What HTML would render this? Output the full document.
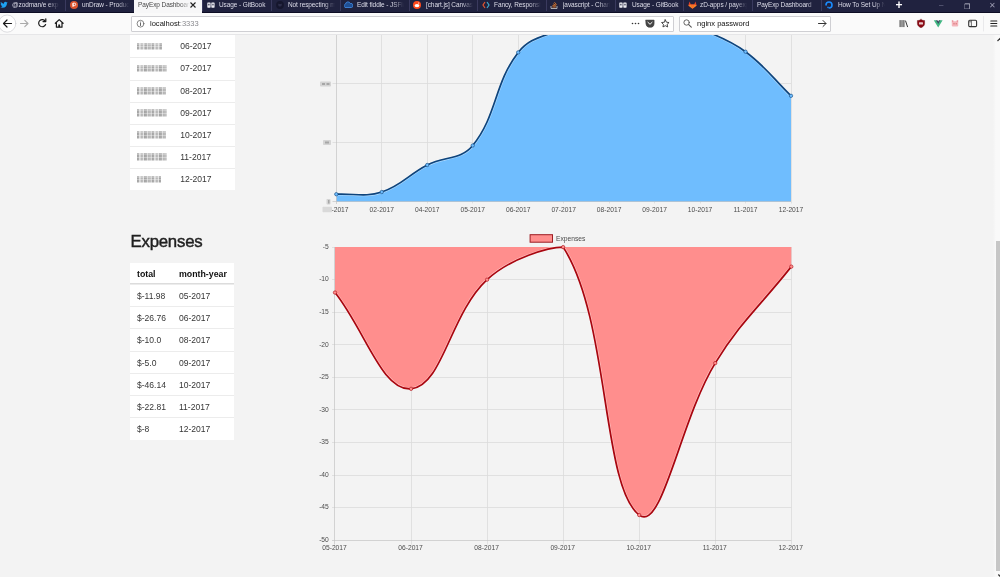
<!DOCTYPE html>
<html lang="en">
<head>
<meta charset="utf-8">
<title>PayExp Dashboard</title>
<style>
*{box-sizing:border-box;margin:0;padding:0}
html,body{width:1000px;height:577px;overflow:hidden;background:#f3f3f3;font-family:"Liberation Sans",sans-serif;color:#222}
#shot{position:relative;width:1000px;height:577px;overflow:hidden;background:#f3f3f3}
/* ---------- tab bar ---------- */
#tabbar{position:absolute;left:0;top:0;width:1000px;height:12.600px;background:#20223f;border-bottom:1.200px solid #0d0d24}
.tab{position:absolute;top:0;height:11px;color:#dddde9;font-size:7.500px;line-height:10px;white-space:nowrap;overflow:hidden;border-left:1px solid #3a3a5e}
.tab .fav{position:absolute;left:3.500px;top:1px;width:9px;height:9px;line-height:0}
.tab .tt{position:absolute;left:16px;top:0;width:56px;transform:scaleX(0.865);transform-origin:0 0;overflow:hidden;letter-spacing:-0.1px;-webkit-mask-image:linear-gradient(90deg,#000 74%,transparent 97%);mask-image:linear-gradient(90deg,#000 74%,transparent 97%)}
.tab .tt.nofade{-webkit-mask-image:none;mask-image:none}
.tab .tt.noic{left:4.300px;width:68px;-webkit-mask-image:linear-gradient(90deg,#000 85%,transparent 100%);mask-image:linear-gradient(90deg,#000 85%,transparent 100%)}
.tab.active{background:#f7f7f8;color:#484848;letter-spacing:-0.2px;height:12.600px;border-left:none}
.tab.active .tt{width:61px;-webkit-mask-image:linear-gradient(90deg,#000 80%,transparent 98%);mask-image:linear-gradient(90deg,#000 80%,transparent 98%)}
.tab .close{position:absolute;right:6.200px;top:1.800px;width:6px;height:6px;line-height:0}
#newtab{position:absolute;left:895.500px;top:-1.500px;color:#fff;font-size:12px;line-height:12px;font-weight:bold}
.wc{position:absolute;top:0;color:#c9c9d6;font-size:8px;line-height:11px}
/* ---------- nav bar ---------- */
#nav{position:absolute;left:0;top:12.600px;width:1000px;height:22.400px;background:#fafafa;border-bottom:1px solid #e6e6e8}
#url{position:absolute;left:131px;top:3.300px;width:543px;height:15.700px;background:#fff;border:1px solid #cfcfd3;border-radius:1px;font-size:7.550px;line-height:14px}
#url .host{position:absolute;left:18px;top:0.400px;color:#111}
#url .host b{font-weight:normal;color:#8a8a8f}
#search{position:absolute;left:679px;top:3.300px;width:151.500px;height:15.700px;background:#fff;border:1px solid #cfcfd3;border-radius:1px;font-size:7.550px;line-height:14px}
#search span{position:absolute;left:17px;top:0.400px;color:#111}
.nico{position:absolute;top:-0.400px;left:0;z-index:2}
/* ---------- page ---------- */
.tbl{position:absolute;left:130px;width:104px;background:#fff;font-size:8.550px;color:#363636}
.row{position:relative;height:22.250px;border-top:1px solid #ececec;line-height:22.500px}
.row:first-child{border-top:none}
.t1 .row{height:22.150px;line-height:21.500px}
.t1 .row:nth-child(2){border-top-color:#fff}
.t1 .c2{left:50.200px}
.row.head{font-weight:bold;font-size:8.800px;color:#111;border-bottom:1px solid #dcdcdc;height:21.400px}
.c1{position:absolute;left:7px;top:0}
.c2{position:absolute;left:49px;top:0}
.blur{display:inline-block;height:7.500px;vertical-align:middle;margin-top:-1px;background:linear-gradient(180deg,rgba(255,255,255,.25) 0 30%,rgba(255,255,255,0) 30% 45%,rgba(255,255,255,.35) 45% 60%,rgba(255,255,255,0) 60% 85%,rgba(255,255,255,.5) 85%),repeating-linear-gradient(90deg,#8e8e8e 0,#9a9a9a 2px,#d4d4d4 2.500px,#c9c9c9 3.500px,#a4a4a4 4px,#b0b0b0 6px,#dadada 6.500px,#b4b4b4 7.500px);filter:blur(0.6px);opacity:.8}
h2{position:absolute;left:130.500px;top:230.800px;font-size:16.800px;line-height:22px;font-weight:normal;color:#1f1f1f;letter-spacing:-0.22px;-webkit-text-stroke:0.45px #1f1f1f}
.charts{position:absolute;left:0;top:34px}
.tick{font-family:"Liberation Sans",sans-serif;font-size:6.700px;fill:#4c4c4c}
#sb{position:absolute;left:992.500px;top:34px;width:7.500px;height:543px;background:linear-gradient(90deg,#f3f3f3,#f9f9f9 40%)}
#sb i{position:absolute;left:3px;top:207px;width:5px;height:330px;background:#c6c6c6}
</style>
</head>
<body>
<div id="shot">

<svg class="charts" width="1000" height="543" viewBox="0 34 1000 543">
<g stroke="#dbdbdb" stroke-width="0.8" fill="none">
<line x1="381.50" y1="34" x2="381.50" y2="203.5"/>
<line x1="427.50" y1="34" x2="427.50" y2="203.5"/>
<line x1="472.50" y1="34" x2="472.50" y2="203.5"/>
<line x1="518.50" y1="34" x2="518.50" y2="203.5"/>
<line x1="563.50" y1="34" x2="563.50" y2="203.5"/>
<line x1="609.50" y1="34" x2="609.50" y2="203.5"/>
<line x1="654.50" y1="34" x2="654.50" y2="203.5"/>
<line x1="700.50" y1="34" x2="700.50" y2="203.5"/>
<line x1="745.50" y1="34" x2="745.50" y2="203.5"/>
<line x1="791.50" y1="34" x2="791.50" y2="203.5"/>
<line x1="332.5" y1="83.5" x2="791" y2="83.5"/>
<line x1="332.5" y1="142.5" x2="791" y2="142.5"/>
</g>
<path d="M336.30,194.20 C354.49,193.32 364.94,197.40 381.77,192.00 C401.32,185.72 408.45,174.61 427.24,165.00 C444.82,156.01 460.95,160.06 472.71,145.50 C497.33,115.02 493.89,83.76 518.18,52.40 C530.27,36.80 544.99,36.80 563.65,28.10 C581.36,19.84 590.26,13.75 609.12,10.00 C626.64,6.51 637.10,6.44 654.59,10.00 C673.47,13.84 682.23,20.32 700.06,28.50 C718.60,37.00 729.30,39.69 745.53,51.70 C765.67,66.61 772.81,78.16 791.00,95.80 L791.00,201.70 L336.30,201.70 Z" fill="#6fbdfe"/>
<g stroke="#c0c0c0" stroke-width="0.65"><line x1="332.5" y1="201.5" x2="791" y2="201.5"/><line x1="336.5" y1="34" x2="336.5" y2="204"/></g>
<path d="M336.30,194.20 C354.49,193.32 364.94,197.40 381.77,192.00 C401.32,185.72 408.45,174.61 427.24,165.00 C444.82,156.01 460.95,160.06 472.71,145.50 C497.33,115.02 493.89,83.76 518.18,52.40 C530.27,36.80 544.99,36.80 563.65,28.10 C581.36,19.84 590.26,13.75 609.12,10.00 C626.64,6.51 637.10,6.44 654.59,10.00 C673.47,13.84 682.23,20.32 700.06,28.50 C718.60,37.00 729.30,39.69 745.53,51.70 C765.67,66.61 772.81,78.16 791.00,95.80" fill="none" stroke="#fff" stroke-opacity="0.45" stroke-width="2.9" stroke-linejoin="round"/>
<path d="M336.30,194.20 C354.49,193.32 364.94,197.40 381.77,192.00 C401.32,185.72 408.45,174.61 427.24,165.00 C444.82,156.01 460.95,160.06 472.71,145.50 C497.33,115.02 493.89,83.76 518.18,52.40 C530.27,36.80 544.99,36.80 563.65,28.10 C581.36,19.84 590.26,13.75 609.12,10.00 C626.64,6.51 637.10,6.44 654.59,10.00 C673.47,13.84 682.23,20.32 700.06,28.50 C718.60,37.00 729.30,39.69 745.53,51.70 C765.67,66.61 772.81,78.16 791.00,95.80" fill="none" stroke="#0e447c" stroke-width="1.7" stroke-linejoin="round"/>
<g fill="#6fbdfe" stroke="#0e447c" stroke-width="0.6">
<circle cx="336.30" cy="194.20" r="1.7"/>
<circle cx="381.77" cy="192.00" r="1.7"/>
<circle cx="427.24" cy="165.00" r="1.7"/>
<circle cx="472.71" cy="145.50" r="1.7"/>
<circle cx="518.18" cy="52.40" r="1.7"/>
<circle cx="745.53" cy="51.70" r="1.7"/>
<circle cx="791.00" cy="95.80" r="1.7"/>
</g>
<g class="tick" text-anchor="middle">
<text x="336.30" y="212">01-2017</text>
<text x="381.77" y="212">02-2017</text>
<text x="427.24" y="212">04-2017</text>
<text x="472.71" y="212">05-2017</text>
<text x="518.18" y="212">06-2017</text>
<text x="563.65" y="212">07-2017</text>
<text x="609.12" y="212">08-2017</text>
<text x="654.59" y="212">09-2017</text>
<text x="700.06" y="212">10-2017</text>
<text x="745.53" y="212">11-2017</text>
<text x="791.00" y="212">12-2017</text>
</g>
<g fill="#d4d4d4"><rect x="320" y="81.5" width="11" height="5" rx="0.8"/><rect x="323" y="140" width="8" height="5" rx="0.8"/><rect x="326.5" y="199" width="4" height="5.5" rx="0.8"/><rect x="322.5" y="206.8" width="9.5" height="5.4" rx="0.8" fill="#d9d9d9"/></g>
<g fill="#a6a6a6"><rect x="322" y="83" width="3" height="2"/><rect x="326.5" y="83" width="3" height="2"/><rect x="325" y="141.5" width="4" height="2"/><rect x="328" y="200" width="1.5" height="3.5"/></g>
<g stroke="#dbdbdb" stroke-width="0.8" fill="none">
<line x1="411.50" y1="247" x2="411.50" y2="544.5"/>
<line x1="487.50" y1="247" x2="487.50" y2="544.5"/>
<line x1="563.50" y1="247" x2="563.50" y2="544.5"/>
<line x1="639.50" y1="247" x2="639.50" y2="544.5"/>
<line x1="715.50" y1="247" x2="715.50" y2="544.5"/>
<line x1="791.50" y1="247" x2="791.50" y2="544.5"/>
<line x1="332" y1="247.50" x2="791.30" y2="247.50"/>
<line x1="332" y1="279.50" x2="791.30" y2="279.50"/>
<line x1="332" y1="312.50" x2="791.30" y2="312.50"/>
<line x1="332" y1="344.50" x2="791.30" y2="344.50"/>
<line x1="332" y1="377.50" x2="791.30" y2="377.50"/>
<line x1="332" y1="409.50" x2="791.30" y2="409.50"/>
<line x1="332" y1="442.50" x2="791.30" y2="442.50"/>
<line x1="332" y1="475.50" x2="791.30" y2="475.50"/>
<line x1="332" y1="507.50" x2="791.30" y2="507.50"/>
</g>
<path d="M335.00,292.56 C365.42,331.07 381.86,391.30 411.05,388.83 C442.70,386.15 449.59,314.62 487.10,279.67 C510.43,257.93 549.22,247.10 563.15,247.10 C610.06,319.70 601.41,486.24 639.20,515.06 C662.25,532.64 679.94,420.78 715.25,363.10 C740.78,321.41 760.88,305.22 791.30,266.64 L791.30,247.10 L335.00,247.10 Z" fill="#ff8e8d"/>
<g stroke="#c0c0c0" stroke-width="0.65"><line x1="332" y1="540.5" x2="791.3" y2="540.5"/><line x1="334.5" y1="247" x2="334.5" y2="544.5"/></g>
<path d="M335.00,292.56 C365.42,331.07 381.86,391.30 411.05,388.83 C442.70,386.15 449.59,314.62 487.10,279.67 C510.43,257.93 549.22,247.10 563.15,247.10 C610.06,319.70 601.41,486.24 639.20,515.06 C662.25,532.64 679.94,420.78 715.25,363.10 C740.78,321.41 760.88,305.22 791.30,266.64" fill="none" stroke="#fff" stroke-opacity="0.45" stroke-width="2.9" stroke-linejoin="round"/>
<path d="M335.00,292.56 C365.42,331.07 381.86,391.30 411.05,388.83 C442.70,386.15 449.59,314.62 487.10,279.67 C510.43,257.93 549.22,247.10 563.15,247.10 C610.06,319.70 601.41,486.24 639.20,515.06 C662.25,532.64 679.94,420.78 715.25,363.10 C740.78,321.41 760.88,305.22 791.30,266.64" fill="none" stroke="#a8060f" stroke-width="1.7" stroke-linejoin="round"/>
<g fill="#ff8e8d" stroke="#a8060f" stroke-width="0.6">
<circle cx="335.00" cy="292.56" r="1.7"/>
<circle cx="411.05" cy="388.83" r="1.7"/>
<circle cx="487.10" cy="279.67" r="1.7"/>
<circle cx="563.15" cy="247.10" r="1.7"/>
<circle cx="639.20" cy="515.06" r="1.7"/>
<circle cx="715.25" cy="363.10" r="1.7"/>
<circle cx="791.30" cy="266.64" r="1.7"/>
</g>
<g class="tick" text-anchor="middle">
<text x="334.50" y="550.1">05-2017</text>
<text x="410.55" y="550.1">06-2017</text>
<text x="486.60" y="550.1">08-2017</text>
<text x="562.65" y="550.1">09-2017</text>
<text x="638.70" y="550.1">10-2017</text>
<text x="714.75" y="550.1">11-2017</text>
<text x="790.80" y="550.1">12-2017</text>
</g>
<g class="tick" text-anchor="end">
<text x="328.8" y="248.90">-5</text>
<text x="328.8" y="281.47">-10</text>
<text x="328.8" y="314.03">-15</text>
<text x="328.8" y="346.60">-20</text>
<text x="328.8" y="379.17">-25</text>
<text x="328.8" y="411.73">-30</text>
<text x="328.8" y="444.30">-35</text>
<text x="328.8" y="476.87">-40</text>
<text x="328.8" y="509.43">-45</text>
<text x="328.8" y="542.00">-50</text>
</g>
<rect x="530.1" y="234.7" width="22.4" height="7.5" fill="#ff8e8d" stroke="#9c1c22" stroke-width="1"/>
<text class="tick" x="556" y="240.5">Expenses</text>
</svg>
<div class="tbl t1" style="top:13.100px;width:104.500px"><div class="row"></div><div class="row"><span class="c1"><i class="blur" style="width:25px"></i></span><span class="c2">06-2017</span></div><div class="row"><span class="c1"><i class="blur" style="width:30px"></i></span><span class="c2">07-2017</span></div><div class="row"><span class="c1"><i class="blur" style="width:29px"></i></span><span class="c2">08-2017</span></div><div class="row"><span class="c1"><i class="blur" style="width:30px"></i></span><span class="c2">09-2017</span></div><div class="row"><span class="c1"><i class="blur" style="width:29px"></i></span><span class="c2">10-2017</span></div><div class="row"><span class="c1"><i class="blur" style="width:30px"></i></span><span class="c2">11-2017</span></div><div class="row"><span class="c1"><i class="blur" style="width:24px"></i></span><span class="c2">12-2017</span></div></div>
<h2>Expenses</h2>
<div class="tbl" style="top:262.500px"><div class="row head"><span class="c1">total</span><span class="c2">month-year</span></div><div class="row"><span class="c1">$-11.98</span><span class="c2">05-2017</span></div><div class="row"><span class="c1">$-26.76</span><span class="c2">06-2017</span></div><div class="row"><span class="c1">$-10.0</span><span class="c2">08-2017</span></div><div class="row"><span class="c1">$-5.0</span><span class="c2">09-2017</span></div><div class="row"><span class="c1">$-46.14</span><span class="c2">10-2017</span></div><div class="row"><span class="c1">$-22.81</span><span class="c2">11-2017</span></div><div class="row"><span class="c1">$-8</span><span class="c2">12-2017</span></div></div>
<div id="sb"><i></i></div>

<div id="tabbar">
<div class="tab" style="left:-3.7px;width:68.7px"><div style="position:absolute;left:-1px;top:0;width:100%;height:100%"><span class="fav"><svg width="8" height="8" viewBox="0 0 24 24"><path fill="#1da1f2" d="M23 4.6c-.8.4-1.7.6-2.6.7.9-.6 1.700-1.500 2-2.600-.9.500-1.900.900-2.900 1.100a4.500 4.500 0 0 0-7.700 4.100C8 7.700 4.700 5.900 2.500 3.200a4.500 4.500 0 0 0 1.400 6c-.7 0-1.400-.2-2-.600 0 2.200 1.500 4.100 3.600 4.500-.7.200-1.400.2-2 .1.600 1.800 2.200 3.100 4.200 3.100A9.100 9.100 0 0 1 1 18.200 12.800 12.800 0 0 0 8 20.300c8.300 0 12.900-6.900 12.900-12.900v-.6c.9-.6 1.600-1.400 2.100-2.200z"/></svg></span><span class="tt">@zodman/e expenses</span></div></div>
<div class="tab" style="left:65.0px;width:68.7px"><span class="fav"><svg width="8" height="8" viewBox="0 0 8 8"><circle cx="4" cy="4" r="4" fill="#da552f"/><path d="M3 2.200h1.500a1.200 1.200 0 0 1 0 2.400H3z M3 2.200v3.800" fill="none" stroke="#fff" stroke-width="0.9"/></svg></span><span class="tt">unDraw - Product Hunt</span></div>
<div class="tab active" style="left:133.7px;width:68.7px"><span class="tt noic">PayExp Dashboard</span><span class="close"><svg width="6" height="6" viewBox="0 0 6 6"><path d="M0.500 0.500L5.500 5.500M5.500 0.500L0.500 5.500" stroke="#222" stroke-width="1.100" fill="none"/></svg></span></div>
<div class="tab" style="left:202.4px;width:68.7px"><span class="fav"><svg width="8" height="8" viewBox="0 0 8 8"><rect x="0.300" y="1.500" width="3.300" height="5.200" rx="0.600" fill="#ececf2"/><rect x="4.300" y="1.500" width="3.300" height="5.200" rx="0.600" fill="#ececf2"/><rect x="1.100" y="2.800" width="1.500" height="1.600" fill="#55566c"/><rect x="5.200" y="2.800" width="1.500" height="1.600" fill="#55566c"/></svg></span><span class="tt nofade">Usage - GitBook</span></div>
<div class="tab" style="left:271.1px;width:68.7px"><span class="fav"><svg width="8" height="8" viewBox="0 0 8 8"><circle cx="4" cy="4" r="3.900" fill="#15162d"/><path d="M2.200 2.400l.8.700h2l.8-.700v1.500a1.800 1.600 0 0 1-3.600 0z" fill="#2c2d49"/></svg></span><span class="tt">Not respecting my settings</span></div>
<div class="tab" style="left:339.8px;width:68.7px"><span class="fav"><svg width="9" height="8" viewBox="0 0 9 8"><path d="M1 6.500a2 2 0 0 1 .5-3.500a2.500 2.500 0 0 1 4.800-.5a2 2 0 0 1 1.200 4z" fill="#1f4f94" stroke="#3f86dc" stroke-width="0.900"/></svg></span><span class="tt">Edit fiddle - JSFiddle</span></div>
<div class="tab" style="left:408.5px;width:68.7px"><span class="fav"><svg width="8" height="8" viewBox="0 0 8 8"><circle cx="4" cy="4" r="4" fill="#ff4a1c"/><ellipse cx="4" cy="4.600" rx="2.400" ry="1.600" fill="#fff"/><circle cx="5.600" cy="2" r="0.600" fill="#fff"/></svg></span><span class="tt">[chart.js] Canvas</span></div>
<div class="tab" style="left:477.2px;width:68.7px"><span class="fav"><svg width="8" height="8" viewBox="0 0 8 8"><path d="M3 1L1 4l2 3" fill="none" stroke="#e3562f" stroke-width="1.200"/><path d="M5 1l2 3-2 3" fill="none" stroke="#3fa9c9" stroke-width="1.200"/></svg></span><span class="tt">Fancy, Responsive Charts</span></div>
<div class="tab" style="left:545.9px;width:68.7px"><span class="fav"><svg width="8" height="8" viewBox="0 0 8 8"><path d="M1 5v2.500h6V5" fill="none" stroke="#bcbbbb" stroke-width="0.900"/><path d="M2.300 6h3.400M2.500 4.500l3.300.6M3.200 2.800l2.900 1.500M4.400 1.200l2.200 2.500" stroke="#f48024" stroke-width="0.800"/></svg></span><span class="tt">javascript - Chart.js</span></div>
<div class="tab" style="left:614.6px;width:68.7px"><span class="fav"><svg width="8" height="8" viewBox="0 0 8 8"><rect x="0.300" y="1.500" width="3.300" height="5.200" rx="0.600" fill="#ececf2"/><rect x="4.300" y="1.500" width="3.300" height="5.200" rx="0.600" fill="#ececf2"/><rect x="1.100" y="2.800" width="1.500" height="1.600" fill="#55566c"/><rect x="5.200" y="2.800" width="1.500" height="1.600" fill="#55566c"/></svg></span><span class="tt nofade">Usage - GitBook</span></div>
<div class="tab" style="left:683.3px;width:68.7px"><span class="fav"><svg width="9" height="8" viewBox="0 0 9 8"><path d="M4.500 7.800L0.300 4.600 1.600 0.500 2.800 3.500h3.400L7.400 0.500 8.700 4.600z" fill="#e2432a"/><path d="M4.500 7.800L2.800 3.500h3.400z" fill="#fc6d26"/><path d="M0.300 4.600L4.500 7.800 2.800 3.500z M8.700 4.600L4.500 7.800 6.200 3.500z" fill="#fca326" opacity=".7"/></svg></span><span class="tt">zD-apps / payexp</span></div>
<div class="tab" style="left:752.0px;width:68.7px"><span class="tt noic">PayExp Dashboard</span></div>
<div class="tab" style="left:820.7px;width:68.7px"><span class="fav"><svg width="8" height="8" viewBox="0 0 8 8"><circle cx="4" cy="4" r="3" fill="none" stroke="#1a8cff" stroke-width="1.600"/><rect x="0" y="4.500" width="3.600" height="3.500" fill="#20223f"/><rect x="2.300" y="5.700" width="1.400" height="1.400" fill="#1a8cff"/></svg></span><span class="tt">How To Set Up Nginx</span></div>
<div id="newtab">+</div>
<span class="wc" style="left:939px;top:-1.500px;color:#7c7c98">–</span>
<span class="wc" style="left:963.500px;font-size:6.500px;top:0.500px">❐</span>
<span class="wc" style="left:988.500px;color:#9a9ab0">✕</span>
</div>

<div id="nav">
<svg class="nico" width="1000" height="22" viewBox="0 0 1000 22" fill="none" stroke-linecap="round" stroke-linejoin="round">
 <circle cx="7.200" cy="11.600" r="8.600" fill="#fff" stroke="#cfcfd3" stroke-width="0.700"/>
 <path d="M11.500 11.500H3.500M7 8L3.500 11.500 7 15" stroke="#1a1a1a" stroke-width="1.200"/>
 <path d="M20.500 11.500H28M24.800 8.300L28 11.500 24.800 14.700" stroke="#aaa" stroke-width="1.100"/>
 <path d="M45.300 9.200A3.600 3.600 0 1 0 45.600 12.500" stroke="#1a1a1a" stroke-width="1.200"/>
 <path d="M45.800 6.800V9.600H43" stroke="#1a1a1a" stroke-width="1.200"/>
 <path d="M55.300 11.300L59.200 7.600 63.100 11.300M56.400 10.600V15.200H62V10.600" stroke="#1a1a1a" stroke-width="1.200"/>
 <rect x="58.300" y="12.500" width="1.800" height="2.700" fill="#1a1a1a"/>
 <!-- info icon -->
 <circle cx="140.500" cy="11.700" r="3.400" stroke="#555" stroke-width="0.700"/>
 <path d="M140.500 11.200V13.500" stroke="#555" stroke-width="0.900"/><circle cx="140.500" cy="9.900" r="0.500" fill="#555"/>
 <!-- page actions ... pocket star -->
 <circle cx="632.500" cy="11.500" r="0.800" fill="#333"/><circle cx="635.500" cy="11.500" r="0.800" fill="#333"/><circle cx="638.500" cy="11.500" r="0.800" fill="#333"/>
 <path d="M645.900 8.100h8.200v3.300a4.100 3.900 0 0 1-8.200 0z" fill="#444" stroke="#444" stroke-width="0.600"/>
 <path d="M647.900 10.300l2.100 2 2.100-2" stroke="#fff" stroke-width="1"/>
 <path d="M665.300 7.800l1.150 2.400 2.600.35-1.900 1.800.5 2.600-2.350-1.250-2.350 1.250.5-2.600-1.900-1.800 2.600-.35z" stroke="#333" stroke-width="0.900"/>
 <!-- search magnifier -->
 <circle cx="686.600" cy="10.500" r="2.700" stroke="#555" stroke-width="0.900"/><path d="M688.700 12.600L691.300 15.200" stroke="#555" stroke-width="1.100"/>
 <path d="M818.500 11.500H826M823 8.500L826 11.500 823 14.500" stroke="#333" stroke-width="1"/>
 <!-- library -->
 <path d="M900.100 8.500V14.700M902 8.500V14.700M903.900 8.500V14.700M905.600 9L907.500 14.700" stroke="#333" stroke-width="1"/>
 <!-- ublock -->
 <g transform="translate(-3.500 0)"><path d="M924.500 7.500c1.400.9 2.400 1 3.600 1v3c0 2-1.500 3.400-3.600 4.200-2.100-.8-3.600-2.200-3.600-4.200v-3c1.200 0 2.200-.1 3.600-1z" fill="#8c0a14" stroke="#5c0008" stroke-width="0.400"/>
 <rect x="922.500" y="10.200" width="4" height="2.300" rx="0.500" fill="#e8c7c9"/></g>
 <!-- vue -->
 <g transform="translate(-5.600 0)"><path d="M939.400 8.200h2.600l1.800 3 1.800-3h2.600l-4.400 7.300z" fill="#41b883"/>
 <path d="M941.600 8.200h1.500l.7 1.200.7-1.200h1.500l-2.200 3.700z" fill="#35495e"/></g>
 <!-- pink pig -->
 <g transform="translate(-5.500 0)"><rect x="957.300" y="9.300" width="6.400" height="5.200" rx="1" fill="#f4b6bc"/><rect x="957.300" y="8.300" width="1.500" height="1.500" fill="#e88b95"/><rect x="962.200" y="8.300" width="1.500" height="1.500" fill="#e88b95"/>
 <rect x="959" y="11.300" width="1" height="1" fill="#c55"/><rect x="961.200" y="11.300" width="1" height="1" fill="#c55"/></g>
 <!-- sidebar -->
 <rect x="968.700" y="8.300" width="7.900" height="6.300" rx="1.100" stroke="#333" stroke-width="1.100"/><path d="M971.400 8.500V14.500" stroke="#333" stroke-width="0.700"/><path d="M969.600 9.800h1" stroke="#333" stroke-width="0.700"/><path d="M983.500 4.500V19" stroke="#e1e1e4" stroke-width="0.700"/>
 <!-- hamburger -->
 <path d="M990.800 9H996.800M990.800 11.500H996.800M990.800 14H996.800" stroke="#222" stroke-width="1.100"/>
</svg>
<div id="url"><span class="host">localhost<b>:3333</b></span></div>
<div id="search"><span>nginx password</span></div>
</div>
<svg style="position:absolute;left:996px;top:36px" width="4" height="8" viewBox="0 0 4 8"><path d="M1.500 5L4.300 2.200" fill="none" stroke="#333" stroke-width="1.200"/></svg><svg style="position:absolute;left:996px;top:571px" width="4" height="6" viewBox="0 0 4 6"><path d="M2.300 3.500L4.300 5.500" fill="none" stroke="#333" stroke-width="1.200"/></svg>
</div>
</body>
</html>
